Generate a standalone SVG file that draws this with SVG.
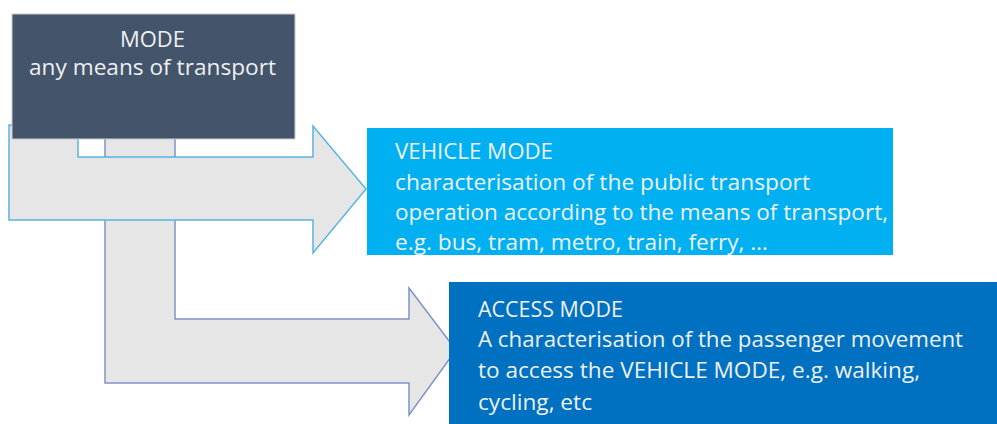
<svg xmlns="http://www.w3.org/2000/svg" width="997" height="424" viewBox="0 0 997 424">
<style>
.arrow{fill:#e7e6e6;stroke-width:1.5;stroke-linejoin:miter}
.a1{stroke:#5ab4e0}
.a2{stroke:#7d93c6}
.t{font-family:"Open Sans","Liberation Sans",sans-serif;font-size:21.5px;fill:#eef0f2}
</style>
<rect width="997" height="424" fill="#ffffff"/>
<g id="connectors">
<path id="arrow-access" class="arrow a2" d="M105,125 L105,383 L409,383 L409,415 L456,350 L409,288 L409,319 L175,319 L175,125 Z"/>
<path id="arrow-vehicle" class="arrow a1" d="M9,125 L9,220 L313,220 L313,253 L366,189 L313,126 L313,157 L78,157 L78,125 Z"/>
</g>
<g id="mode">
<rect x="12" y="14" width="283" height="125" fill="#44546a" stroke="#c9ccd1" stroke-width="1"/>
<text class="t" x="152.5" y="47" text-anchor="middle" textLength="65" lengthAdjust="spacingAndGlyphs">MODE</text>
<text class="t" x="152.5" y="75" text-anchor="middle" textLength="247" lengthAdjust="spacingAndGlyphs">any means of transport</text>
</g>
<g id="vehicle-mode">
<rect x="367" y="128" width="526" height="127" fill="#00b0f0"/>
<text class="t" x="395" y="159" textLength="158" lengthAdjust="spacingAndGlyphs">VEHICLE MODE</text>
<text class="t" x="395" y="190" textLength="415" lengthAdjust="spacingAndGlyphs">characterisation of the public transport</text>
<text class="t" x="395" y="220" textLength="493" lengthAdjust="spacingAndGlyphs">operation according to the means of transport,</text>
<text class="t" x="395" y="250" textLength="373" lengthAdjust="spacingAndGlyphs">e.g. bus, tram, metro, train, ferry, …</text>
</g>
<g id="access-mode">
<rect x="449" y="282" width="548" height="142" fill="#0070c0"/>
<text class="t" x="478" y="317" textLength="145" lengthAdjust="spacingAndGlyphs">ACCESS MODE</text>
<text class="t" x="478" y="347" textLength="485" lengthAdjust="spacingAndGlyphs">A characterisation of the passenger movement</text>
<text class="t" x="478" y="378" textLength="442" lengthAdjust="spacingAndGlyphs">to access the VEHICLE MODE, e.g. walking,</text>
<text class="t" x="478" y="410" textLength="114" lengthAdjust="spacingAndGlyphs">cycling, etc</text>
</g>
</svg>
